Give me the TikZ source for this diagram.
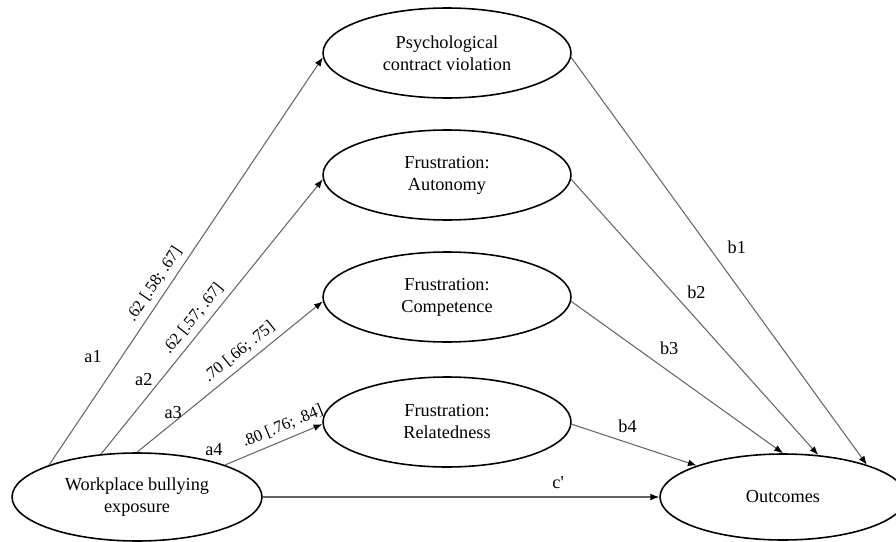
\documentclass[tikz,border=0pt]{standalone}
\usepackage{fontspec}
\setmainfont{Liberation Serif}
\usetikzlibrary{shapes.geometric,arrows.meta}
\begin{document}
\begin{tikzpicture}[x=0.02cm, y=-0.02cm,
        var/.style={draw, ellipse, line width=0.9pt, inner sep=0pt, align=center,
            minimum width=4.96cm, minimum height=1.8cm,
            font=\fontsize{10.4}{12.5}\selectfont},
        arr/.style={draw=black!60, line width=0.6pt,
            -{Latex[length=5pt, width=3.8pt, color=black]}},
        coef/.style={font=\fontsize{9.4}{11}\selectfont, sloped, above},
        lab/.style={font=\fontsize{10.4}{12}\selectfont, inner sep=1pt}]
    \useasboundingbox (0,0) rectangle (896,541);

    \node[var] (pcv) at (447,53) {Psychological\\contract violation};
    \node[var] (aut) at (447,175) {Frustration:\\Autonomy};
    \node[var] (com) at (447,297) {Frustration:\\Competence};
    \node[var] (rel) at (447,422) {Frustration:\\Relatedness};
    \node[var, minimum width=5cm, minimum height=1.76cm] (wbe) at (137,497) {Workplace bullying\\exposure};
    \node[var, minimum width=4.92cm, minimum height=1.72cm] (out) at (783,497) {Outcomes};

    % a paths
    \draw[arr] (wbe.160) -- node[coef, pos=0.425] {.62 [.58; .67]}
        node[lab, pos=0.265, anchor=east, xshift=-10pt] {a1} (pcv.182);
    \draw[arr] (wbe.130) -- node[coef, pos=0.462] {.62 [.57; .67]}
        node[lab, pos=0.273, anchor=east, xshift=-3.9pt] {a2} (aut.182);
    \draw[arr] (wbe.north) -- node[coef, pos=0.596] {.70 [.66; .75]}
        node[lab, pos=0.263, anchor=east, xshift=-1pt] {a3} (com.182);
    \draw[arr] (wbe.20) -- node[coef, pos=0.646] {.80 [.76; .84]}
        node[lab, pos=0.08, anchor=south east, xshift=-4.5pt, yshift=2.2pt] {a4} (rel.181);

    % b paths
    \draw[arr] (pcv.-2) -- node[lab, pos=0.466, anchor=west, xshift=9.3pt] {b1} (out.21);
    \draw[arr] (aut.-2) -- node[lab, pos=0.411, anchor=west, xshift=7pt] {b2} (out.50);
    \draw[arr] (com.-2) -- node[lab, pos=0.309, anchor=west, xshift=12pt] {b3} (out.north);
    \draw[arr] (rel.-1) -- node[lab, pos=0.447, anchor=south, yshift=4.5pt] {b4} (out.160);

    % direct path
    \draw[arr] (wbe.east) -- node[lab, pos=0.745, anchor=south, yshift=3.5pt] {c\textquotesingle} (out.west);
\end{tikzpicture}
\end{document}
